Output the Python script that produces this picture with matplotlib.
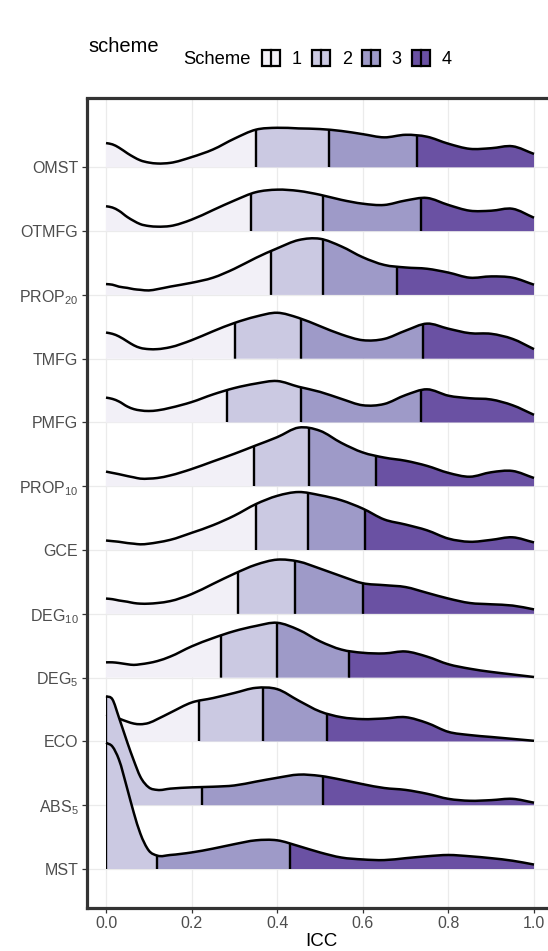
import numpy as np
import matplotlib
matplotlib.use("Agg")
import matplotlib.pyplot as plt
from matplotlib.path import Path
from matplotlib.patches import PathPatch, Rectangle, Patch
from matplotlib.legend_handler import HandlerBase

plt.rcParams["font.family"] = ["Liberation Sans", "DejaVu Sans"]
plt.rcParams["mathtext.fontset"] = "custom"
plt.rcParams["mathtext.rm"] = "Liberation Sans"
plt.rcParams["mathtext.it"] = "Liberation Sans:italic"
plt.rcParams["mathtext.bf"] = "Liberation Sans:bold"

# rows from bottom (MST) to top (OMST)
methods = ["MST", "ABS5", "ECO", "DEG5", "DEG10", "GCE",
           "PROP10", "PMFG", "TMFG", "PROP20", "OTMFG", "OMST"]
method_labels = ["MST", r"ABS$_{5}$", "ECO", r"DEG$_{5}$", r"DEG$_{10}$", "GCE",
                 r"PROP$_{10}$", "PMFG", "TMFG", r"PROP$_{20}$", "OTMFG", "OMST"]

# ICC positions at which the ridge heights were read
icc = [0, 0.015, 0.03, 0.05, 0.065, 0.08, 0.1, 0.12, 0.15, 0.2, 0.25, 0.3, 0.35,
       0.4, 0.45, 0.5, 0.55, 0.6, 0.65, 0.7, 0.75, 0.8, 0.85, 0.9, 0.95, 1.0]

# scaled density heights (in row units)
dens_mst = [1.98, 1.92, 1.72, 1.25, 0.88, 0.56, 0.29, 0.21, 0.22, 0.26, 0.32, 0.39, 0.45,
            0.45, 0.36, 0.26, 0.18, 0.15, 0.14, 0.17, 0.20, 0.22, 0.20, 0.17, 0.13, 0.07]
dens_abs5 = [1.71, 1.66, 1.38, 0.98, 0.70, 0.45, 0.28, 0.24, 0.26, 0.28, 0.29, 0.31, 0.37,
             0.43, 0.48, 0.46, 0.40, 0.33, 0.27, 0.24, 0.18, 0.10, 0.07, 0.08, 0.10, 0.04]
dens_eco = [0.42, 0.40, 0.36, 0.31, 0.28, 0.27, 0.29, 0.35, 0.45, 0.61, 0.68, 0.76, 0.84,
            0.82, 0.64, 0.47, 0.38, 0.35, 0.36, 0.38, 0.29, 0.15, 0.10, 0.07, 0.04, 0.01]
dens_deg5 = [0.24, 0.24, 0.23, 0.21, 0.20, 0.21, 0.23, 0.26, 0.33, 0.49, 0.62, 0.73, 0.81,
             0.86, 0.75, 0.57, 0.44, 0.39, 0.38, 0.41, 0.33, 0.21, 0.14, 0.09, 0.05, 0.01]
dens_deg10 = [0.24, 0.23, 0.21, 0.19, 0.17, 0.16, 0.16, 0.17, 0.20, 0.31, 0.47, 0.63, 0.77,
              0.85, 0.82, 0.71, 0.59, 0.48, 0.45, 0.42, 0.33, 0.24, 0.17, 0.15, 0.13, 0.07]
dens_gce = [0.15, 0.14, 0.13, 0.11, 0.10, 0.09, 0.10, 0.12, 0.16, 0.27, 0.39, 0.54, 0.72,
            0.85, 0.91, 0.86, 0.78, 0.65, 0.48, 0.40, 0.31, 0.18, 0.13, 0.16, 0.20, 0.12]
dens_prop10 = [0.23, 0.21, 0.19, 0.16, 0.14, 0.12, 0.12, 0.13, 0.17, 0.27, 0.39, 0.51, 0.64,
               0.77, 0.92, 0.87, 0.68, 0.53, 0.45, 0.40, 0.32, 0.21, 0.15, 0.22, 0.24, 0.13]
dens_pmfg = [0.39, 0.37, 0.33, 0.25, 0.21, 0.19, 0.18, 0.19, 0.23, 0.32, 0.44, 0.54, 0.61,
             0.65, 0.56, 0.48, 0.37, 0.27, 0.29, 0.43, 0.52, 0.42, 0.38, 0.36, 0.27, 0.12]
dens_tmfg = [0.41, 0.39, 0.35, 0.27, 0.21, 0.17, 0.15, 0.15, 0.18, 0.29, 0.43, 0.56, 0.66,
             0.72, 0.64, 0.51, 0.38, 0.29, 0.31, 0.44, 0.55, 0.47, 0.40, 0.39, 0.31, 0.15]
dens_prop20 = [0.17, 0.16, 0.13, 0.11, 0.09, 0.08, 0.07, 0.09, 0.13, 0.19, 0.27, 0.41, 0.58,
               0.73, 0.86, 0.88, 0.76, 0.59, 0.47, 0.43, 0.41, 0.35, 0.27, 0.29, 0.27, 0.16]
dens_otmfg = [0.39, 0.37, 0.32, 0.22, 0.16, 0.11, 0.08, 0.07, 0.08, 0.18, 0.33, 0.48, 0.61,
              0.65, 0.63, 0.57, 0.49, 0.43, 0.41, 0.48, 0.52, 0.41, 0.32, 0.32, 0.35, 0.21]
dens_omst = [0.38, 0.36, 0.31, 0.22, 0.16, 0.11, 0.075, 0.06, 0.07, 0.16, 0.28, 0.45, 0.59,
             0.62, 0.61, 0.60, 0.57, 0.52, 0.47, 0.51, 0.48, 0.37, 0.29, 0.30, 0.33, 0.21]

# quartiles (25%, 50%, 75%) of ICC for each method
quart_mst = [0.0, 0.118, 0.43]
quart_abs5 = [0.0, 0.224, 0.508]
quart_eco = [0.218, 0.366, 0.516]
quart_deg5 = [0.269, 0.40, 0.567]
quart_deg10 = [0.309, 0.442, 0.60]
quart_gce = [0.35, 0.473, 0.605]
quart_prop10 = [0.346, 0.475, 0.63]
quart_pmfg = [0.283, 0.455, 0.736]
quart_tmfg = [0.301, 0.455, 0.74]
quart_prop20 = [0.385, 0.506, 0.68]
quart_otmfg = [0.338, 0.506, 0.737]
quart_omst = [0.35, 0.522, 0.726]

densities = [dens_mst, dens_abs5, dens_eco, dens_deg5, dens_deg10, dens_gce,
             dens_prop10, dens_pmfg, dens_tmfg, dens_prop20, dens_otmfg, dens_omst]
quartiles = [quart_mst, quart_abs5, quart_eco, quart_deg5, quart_deg10, quart_gce,
             quart_prop10, quart_pmfg, quart_tmfg, quart_prop20, quart_otmfg, quart_omst]

scheme_labels = ["1", "2", "3", "4"]
scheme_colors = ["#F2F0F7", "#CBC9E2", "#9E9AC8", "#6A51A3"]


def node_slopes(x, y):
    # three-point (parabolic) slopes: smooth C1 curve through the read points
    h = np.diff(x)
    d = np.diff(y) / h
    m = np.empty_like(y)
    m[1:-1] = (h[1:] * d[:-1] + h[:-1] * d[1:]) / (h[:-1] + h[1:])
    m[0] = d[0]
    m[-1] = d[-1]
    return m


def ridge_paths(x, y, base):
    x = np.asarray(x, float)
    y = np.asarray(y, float) + base
    m = node_slopes(x, y)
    top_v = [(x[0], y[0])]
    top_c = [Path.MOVETO]
    for i in range(len(x) - 1):
        h = x[i + 1] - x[i]
        top_v += [(x[i] + h / 3, y[i] + m[i] * h / 3),
                  (x[i + 1] - h / 3, y[i + 1] - m[i + 1] * h / 3),
                  (x[i + 1], y[i + 1])]
        top_c += [Path.CURVE4] * 3
    fill_v = [(x[0], base)] + top_v + [(x[-1], base), (x[0], base)]
    fill_c = [Path.MOVETO, Path.LINETO] + top_c[1:] + [Path.LINETO, Path.CLOSEPOLY]
    return Path(fill_v, fill_c), Path(top_v, top_c)


class KeyHandler(HandlerBase):
    def create_artists(self, legend, orig_handle, xdescent, ydescent,
                       width, height, fontsize, trans):
        box = Rectangle((-xdescent, -ydescent), width, height,
                        facecolor=orig_handle.get_facecolor(), edgecolor="black",
                        lw=1.6, transform=trans)
        mid = -xdescent + width / 2
        line = plt.Line2D([mid, mid], [-ydescent, height - ydescent],
                          color="black", lw=1.6, transform=trans)
        return [box, line]


W, H = 548, 951
fig = plt.figure(figsize=(W / 100, H / 100), dpi=100)

# panel in pixel terms: left 86.7, right ~555, top 98.5, bottom 908
ax = fig.add_axes([86.7 / W, (H - 908) / H, (555.4 - 86.7) / W, (908 - 98.5) / H])
ax.set_xlim(-0.0451, 1.05)
ax.set_ylim(0.389, 13.079)

n = len(methods)
for k in range(n - 1, -1, -1):
    base = k + 1
    z = 2 + (n - k)
    fill_path, top_path = ridge_paths(icc, densities[k], base)
    bounds = [icc[0]] + list(quartiles[k]) + [icc[-1]]
    for j in range(4):
        seg = PathPatch(fill_path, facecolor=scheme_colors[j], edgecolor="none", zorder=z)
        ax.add_patch(seg)
        seg.set_clip_path(Rectangle((bounds[j], base - 0.5), bounds[j + 1] - bounds[j], 4,
                                    transform=ax.transData))
    clip = PathPatch(fill_path, transform=ax.transData)
    for q in quartiles[k]:
        ln, = ax.plot([q, q], [base, base + 3], color="black", lw=1.7,
                      solid_capstyle="butt", zorder=z + 0.1)
        ln.set_clip_path(clip)
    ax.add_patch(PathPatch(top_path, facecolor="none", edgecolor="black", lw=1.8,
                           capstyle="butt", joinstyle="round", zorder=z + 0.2))

ax.set_yticks(range(1, n + 1))
ax.set_yticklabels(method_labels)
ax.set_xticks([0, 0.2, 0.4, 0.6, 0.8, 1.0])
ax.set_xticklabels(["0.0", "0.2", "0.4", "0.6", "0.8", "1.0"])
ax.set_axisbelow(True)
ax.grid(True, color="#EBEBEB", lw=0.9)
ax.tick_params(axis="both", direction="out", length=3.5, width=0.9, color="#333333",
               labelcolor="#4D4D4D", labelsize=11.5, pad=2.5)
for s in ax.spines.values():
    s.set_color("#333333")
    s.set_linewidth(2.3)
    s.set_zorder(50)
ax.set_xlabel("ICC", fontsize=13.5, labelpad=1)

fig.text(88 / W, 1 - 46 / H, "scheme", fontsize=14.5, ha="left", va="center")
fig.text(183 / W, 1 - 59 / H, "Scheme", fontsize=13.2, ha="left", va="center")
handles = [Patch(facecolor=c) for c in scheme_colors]
fig.legend(handles, scheme_labels, handler_map={Patch: KeyHandler()}, ncol=4,
           loc="center left", bbox_to_anchor=(262 / W, 1 - 59 / H), frameon=False,
           fontsize=13, handlelength=1.0, handleheight=1.0, handletextpad=0.65,
           columnspacing=0.56, borderpad=0, borderaxespad=0)

fig.savefig("out.png", dpi=100)
